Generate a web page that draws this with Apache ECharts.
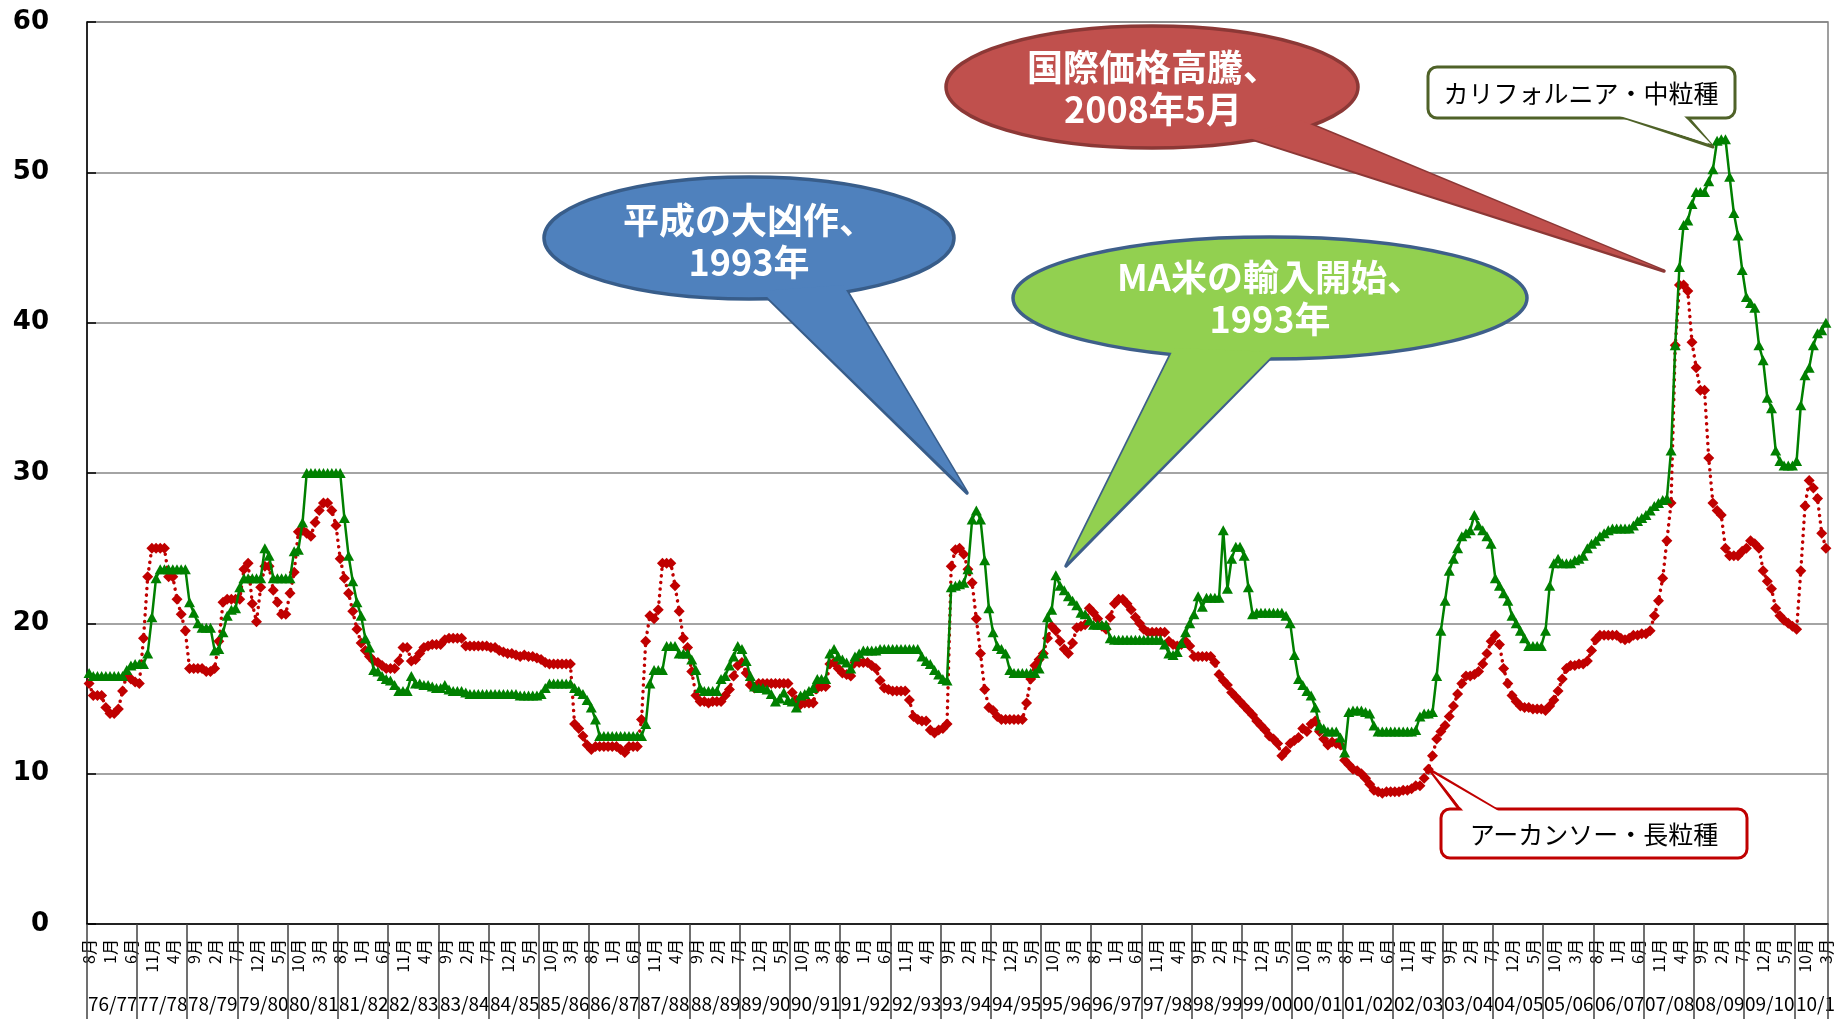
<!DOCTYPE html>
<html><head><meta charset="utf-8">
<script src="https://cdn.jsdelivr.net/npm/echarts@6/dist/echarts.min.js"></script>
<style>html,body{margin:0;padding:0;background:#fff}#c{width:1835px;height:1019px}</style>
</head><body><div id="c"></div>
<script>
// crop years (Aug–Jul); the last one ends in March
const cropYears = ['76/77','77/78','78/79','79/80','80/81','81/82','82/83','83/84','84/85','85/86',
  '86/87','87/88','88/89','89/90','90/91','91/92','92/93','93/94','94/95','95/96','96/97','97/98',
  '98/99','99/00','00/01','01/02','02/03','03/04','04/05','05/06','06/07','07/08','08/09','09/10','10/11'];
const monthNames = ['8月','9月','10月','11月','12月','1月','2月','3月','4月','5月','6月','7月'];
const lastYearMonths = 8;
const yMin = 0, yMax = 60, yStep = 10;

// アーカンソー・長粒種 (one row per crop year)
const arkansas = [
16.0,15.2,15.2,15.2,14.4,14.0,14.0,14.3,15.5,16.6,16.3,16.1,
16.0,19.0,23.1,25.0,25.0,25.0,25.0,23.1,23.1,21.6,20.6,19.5,
17.0,17.0,17.0,17.0,16.8,16.8,17.0,18.8,21.4,21.6,21.6,21.6,
21.6,23.6,24.0,21.3,20.1,22.4,23.8,23.8,22.2,21.4,20.6,20.6,
22.0,23.4,26.1,26.2,26.0,25.8,26.7,27.5,28.0,28.0,27.5,26.5,
24.3,23.0,22.0,20.8,19.6,18.7,18.2,17.8,17.5,17.4,17.2,17.0,
17.0,17.0,17.5,18.4,18.4,17.5,17.6,18.0,18.4,18.5,18.6,18.6,
18.6,18.9,19.0,19.0,19.0,19.0,18.5,18.5,18.5,18.5,18.5,18.5,
18.4,18.4,18.2,18.1,18.0,18.0,17.9,17.8,17.9,17.8,17.8,17.7,
17.6,17.4,17.3,17.3,17.3,17.3,17.3,17.3,13.3,13.0,12.5,11.9,
11.6,11.8,11.8,11.8,11.8,11.8,11.8,11.6,11.4,11.8,11.8,11.8,
13.6,18.8,20.5,20.3,20.9,24.0,24.0,24.0,22.5,20.8,19.0,18.4,
16.8,15.2,14.8,14.8,14.7,14.8,14.8,14.8,15.2,15.6,16.5,17.2,
17.4,16.7,15.9,15.7,16.0,16.0,16.0,16.0,16.0,16.0,16.0,16.0,
15.4,14.9,14.6,14.7,14.7,14.7,15.7,15.8,15.8,17.3,17.4,17.0,
16.7,16.6,16.5,17.4,17.4,17.4,17.4,17.2,17.0,16.2,15.7,15.6,
15.5,15.5,15.5,15.5,14.9,13.8,13.6,13.5,13.5,12.9,12.7,12.9,
13.0,13.3,23.8,24.9,25.0,24.6,23.6,22.7,20.3,18.0,15.6,14.4,
14.2,13.8,13.6,13.6,13.6,13.6,13.6,13.6,14.7,16.3,17.2,17.6,
18.0,19.0,19.8,19.5,18.8,18.3,18.0,18.7,19.7,19.8,19.9,21.0,
20.7,20.3,19.8,19.6,20.4,21.3,21.6,21.6,21.3,20.9,20.4,20.0,
19.6,19.4,19.4,19.4,19.4,19.4,18.8,18.6,18.5,18.6,18.8,18.5,
17.8,17.8,17.8,17.8,17.8,17.4,16.6,16.2,15.9,15.4,15.1,14.8,
14.5,14.2,13.9,13.5,13.2,12.9,12.5,12.3,12.0,11.2,11.5,12.0,
12.2,12.4,13.0,12.8,13.3,13.5,12.8,12.3,11.9,12.1,12.0,11.9,
10.9,10.6,10.3,10.2,10.0,9.7,9.3,8.9,8.8,8.7,8.8,8.8,
8.8,8.8,8.9,8.9,9.0,9.2,9.2,9.7,10.3,11.2,12.3,12.8,
13.2,13.8,14.5,15.3,16.0,16.5,16.5,16.6,16.8,17.3,18.0,18.8,
19.2,18.6,17.0,16.0,15.2,14.8,14.5,14.4,14.4,14.3,14.3,14.3,
14.2,14.5,14.9,15.5,16.3,17.0,17.2,17.2,17.3,17.3,17.5,18.2,
18.9,19.2,19.2,19.2,19.2,19.2,19.0,18.9,19.0,19.2,19.2,19.3,
19.3,19.5,20.5,21.5,23.0,25.5,28.0,38.5,42.5,42.5,42.1,38.7,
37.0,35.5,35.5,31.0,28.0,27.5,27.2,25.0,24.5,24.5,24.5,24.8,
25.0,25.5,25.3,25.0,23.5,22.8,22.3,21.0,20.5,20.2,20.0,19.8,
19.6,23.5,27.8,29.5,29.0,28.3,26.0,25.0
];

// カリフォルニア・中粒種 (one row per crop year)
const california = [
16.7,16.5,16.5,16.5,16.5,16.5,16.5,16.5,16.5,16.9,17.2,17.3,
17.3,17.3,18.0,20.4,23.0,23.6,23.6,23.6,23.6,23.6,23.6,23.6,
21.4,20.7,20.0,19.7,19.7,19.7,18.2,18.3,19.4,20.5,20.9,21.0,
22.4,23.0,23.0,23.0,23.0,23.0,25.0,24.5,23.0,23.0,23.0,23.0,
23.0,24.8,24.9,26.7,30.0,30.0,30.0,30.0,30.0,30.0,30.0,30.0,
30.0,27.0,24.5,22.8,21.4,20.5,19.0,18.4,16.9,16.8,16.5,16.3,
16.2,15.9,15.5,15.5,15.5,16.5,16.0,16.0,15.9,15.9,15.8,15.7,
15.7,15.9,15.6,15.5,15.5,15.5,15.4,15.3,15.3,15.3,15.3,15.3,
15.3,15.3,15.3,15.3,15.3,15.3,15.3,15.2,15.2,15.2,15.2,15.2,
15.3,15.7,16.0,16.0,16.0,16.0,16.0,16.0,15.7,15.5,15.3,14.9,
14.4,13.6,12.5,12.5,12.5,12.5,12.5,12.5,12.5,12.5,12.5,12.5,
12.5,13.3,16.0,16.9,16.9,16.9,18.5,18.5,18.5,18.0,18.0,18.0,
17.6,16.9,15.7,15.5,15.5,15.5,15.5,16.3,16.5,17.2,17.8,18.5,
18.3,17.5,16.5,15.8,15.7,15.7,15.6,15.3,14.8,15.0,15.4,14.9,
14.8,14.4,15.2,15.3,15.5,15.7,16.3,16.3,16.3,18.0,18.3,17.8,
17.6,17.4,17.0,17.8,18.0,18.2,18.2,18.2,18.2,18.3,18.3,18.3,
18.3,18.3,18.3,18.3,18.3,18.3,18.3,17.8,17.5,17.3,16.9,16.6,
16.3,16.2,22.4,22.5,22.6,22.7,23.6,26.9,27.5,26.9,24.2,21.0,
19.4,18.5,18.3,18.0,16.9,16.7,16.7,16.7,16.7,16.7,16.7,17.0,
18.0,20.4,20.9,23.2,22.5,22.2,21.8,21.5,21.2,20.7,20.6,20.2,
19.9,19.9,19.9,19.9,19.0,18.9,18.9,18.9,18.9,18.9,18.9,18.9,
18.9,18.9,18.9,18.9,18.9,18.6,18.0,17.9,18.1,18.7,19.4,20.0,
20.6,21.8,21.1,21.7,21.7,21.7,21.7,26.2,22.3,24.3,25.1,25.1,
24.5,22.4,20.6,20.7,20.7,20.7,20.7,20.7,20.7,20.7,20.5,20.0,
17.9,16.3,15.9,15.5,15.2,14.4,13.2,13.0,12.8,12.8,12.8,12.4,
11.4,14.1,14.2,14.2,14.2,14.1,14.0,13.2,12.8,12.8,12.8,12.8,
12.8,12.8,12.8,12.8,12.8,12.9,13.8,14.0,14.0,14.1,16.5,19.5,
21.5,23.5,24.3,25.0,25.8,26.0,26.2,27.2,26.5,26.2,25.8,25.3,
23.0,22.5,22.0,21.5,20.5,20.0,19.5,19.0,18.5,18.5,18.5,18.5,
19.5,22.5,24.0,24.3,24.0,24.0,24.0,24.2,24.3,24.5,25.0,25.3,
25.5,25.8,26.0,26.2,26.3,26.3,26.3,26.3,26.3,26.5,26.8,27.0,
27.2,27.5,27.8,28.0,28.2,28.3,31.5,38.5,43.7,46.5,46.8,47.9,
48.7,48.7,48.7,49.4,50.2,52.1,52.2,52.2,49.7,47.3,45.8,43.5,
41.7,41.3,41.0,38.5,37.5,35.0,34.3,31.5,30.8,30.5,30.5,30.5,
30.8,34.5,36.5,37.0,38.5,39.3,39.5,40.0
];

// month categories and crop-year group boundaries
const months = [];
const yearStarts = [];
cropYears.forEach((y, k) => {
  const n = (k === cropYears.length - 1) ? lastYearMonths : 12;
  yearStarts.push(months.length);
  for (let m = 0; m < n; m++) months.push(monthNames[m]);
});
const yearBounds = yearStarts.concat([months.length]);

const JP = '"Noto Sans CJK JP", "Noto Sans", sans-serif';
const gridLeft = 87, gridRight = 7, gridTop = 22, gridBottom = 95;

function callout(cx, cy, rx, ry, tail, tailIn, fill, stroke, text, tx, ty, z) {
  return [
    {type:'polygon', z:z, shape:{points:tail}, style:{fill:fill, stroke:stroke, lineWidth:3.5, lineJoin:'round'}},
    {type:'ellipse', z:z+1, shape:{cx:cx, cy:cy, rx:rx, ry:ry}, style:{fill:fill, stroke:stroke, lineWidth:3.5}},
    {type:'polygon', z:z+2, shape:{points:tailIn}, style:{fill:fill}},
    {type:'text', z:z+3, style:{text:text, x:tx, y:ty, fill:'#fff', font:'bold 36px ' + JP,
      align:'center', verticalAlign:'middle', textAlign:'center', textVerticalAlign:'middle', lineHeight:42}}
  ];
}
function boxCallout(x, y, w, h, tail, tailIn, stroke, text, tx, ty, z) {
  return [
    {type:'polygon', z:z, shape:{points:tail}, style:{fill:'#fff', stroke:stroke, lineWidth:3, lineJoin:'round'}},
    {type:'rect', z:z+1, shape:{x:x, y:y, width:w, height:h, r:9}, style:{fill:'#fff', stroke:stroke, lineWidth:3}},
    {type:'polygon', z:z+2, shape:{points:tailIn}, style:{fill:'#fff'}},
    {type:'text', z:z+3, style:{text:text, x:tx, y:ty, fill:'#000', font:'25px ' + JP,
      align:'center', verticalAlign:'middle', textAlign:'center', textVerticalAlign:'middle'}}
  ];
}

const graphics = [].concat(
  callout(749, 238, 205, 61,
    [[761,291],[967,493],[843,285]], [[761,291],[965,489],[843,285]],
    '#4F81BD', '#385D8A', '平成の大凶作、\n1993年', 749, 241, 100),
  callout(1270, 298, 257, 61,
    [[1174,348],[1066,566],[1276,352]], [[1174,348],[1068,562],[1276,352]],
    '#92D050', '#3E5F8A', 'MA米の輸入開始、\n1993年', 1270, 298, 110),
  callout(1152, 87, 206, 61,
    [[1240,135],[1664,271],[1300,120]], [[1240,135],[1660,269],[1300,120]],
    '#C0504D', '#8C3836', '国際価格高騰、\n2008年5月', 1153, 88, 120),
  boxCallout(1428, 67, 307, 51,
    [[1608,112],[1713,147],[1683,112]], [[1610,113],[1711,144],[1681,113]],
    '#4F6228', 'カリフォルニア・中粒種', 1581, 93, 130),
  boxCallout(1441, 809, 306, 49,
    [[1463,814],[1430,770],[1504,814]], [[1465,813],[1433,773],[1502,813]],
    '#C00000', 'アーカンソー・長粒種', 1594, 834, 140)
);

const chart = echarts.init(document.getElementById('c'), null, {renderer:'canvas'});
chart.setOption({
  animation: false,
  backgroundColor: '#fff',
  grid: {left:gridLeft, right:gridRight, top:gridTop, bottom:gridBottom, containLabel:false, outerBoundsMode:'none',
    show:true, borderColor:'#808080', borderWidth:1.5, backgroundColor:'transparent'},
  xAxis: {type:'category', data:months, boundaryGap:true,
     axisLine:{onZero:false, lineStyle:{color:'#000', width:1.5}},
     axisTick:{show:false},
     axisLabel:{interval:4, rotate:90, margin:15, fontSize:16, color:'#000', fontFamily:JP},
     splitLine:{show:false}},
  yAxis: {type:'value', min:yMin, max:yMax, interval:yStep,
    axisLine:{show:true, onZero:false, lineStyle:{color:'#000', width:1.5}},
    axisTick:{show:true, inside:true, length:9, lineStyle:{color:'#000', width:1.5}},
    axisLabel:{margin:38, fontSize:26, fontWeight:'bold', color:'#000', fontFamily:'"DejaVu Sans", Verdana, sans-serif'},
    splitLine:{lineStyle:{color:'#868686', width:1.5}}},
  series: [
    {name:'アーカンソー・長粒種', type:'line', data:arkansas, symbol:'diamond', symbolSize:11,
     showAllSymbol:true, z:3,
     itemStyle:{color:'#C00000'},
     lineStyle:{color:'#C00000', width:3.5, type:[0.1, 6.5], cap:'round'}},
    {name:'カリフォルニア・中粒種', type:'line', data:california, symbol:'triangle', symbolSize:[11,10],
     showAllSymbol:true, z:4,
     itemStyle:{color:'#008000'},
     lineStyle:{color:'#008000', width:2.5}}
  ]
});

// second level of the category axis: crop-year separators and crop-year labels
const W = chart.getWidth(), H = chart.getHeight();
const plotW = W - gridLeft - gridRight;
const axisY = H - gridBottom;
function monthX(v) { return gridLeft + plotW * v / months.length; }
const separators = yearBounds.map(function (v) {
  const x = Math.round(monthX(v));
  return {type:'rect', z:300, shape:{x:x - 0.75, y:axisY, width:1.5, height:gridBottom},
    style:{fill:'#404040'}};
});
const yearTexts = yearStarts.map(function (v, k) {
  return {type:'text', z:290, style:{text:cropYears[k], x:Math.round(monthX(v)) + 1, y:axisY + 80,
    fill:'#000', font:'19px ' + JP, align:'left', verticalAlign:'middle',
    textAlign:'left', textVerticalAlign:'middle'}};
});
chart.setOption({graphic: {elements: separators.concat(yearTexts, graphics)}});
</script></body></html>
